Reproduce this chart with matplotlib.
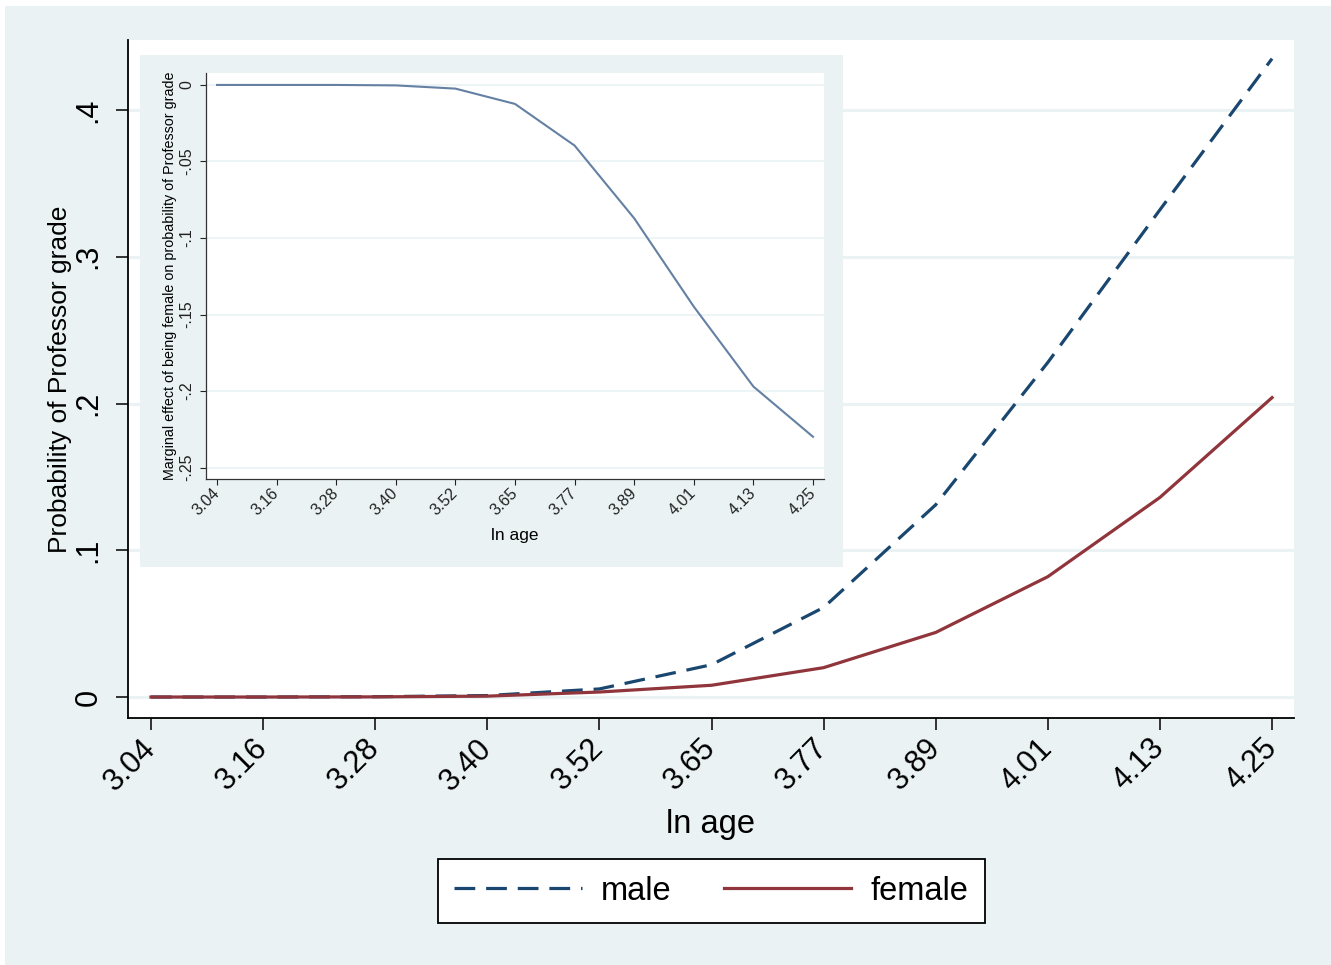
import matplotlib
matplotlib.use("Agg")
import matplotlib.pyplot as plt
from matplotlib.patches import Rectangle

plt.rcParams["font.family"] = ["Liberation Sans", "DejaVu Sans"]

# datos
age_labels = ["3.04", "3.16", "3.28", "3.40", "3.52", "3.65", "3.77", "3.89", "4.01", "4.13", "4.25"]
male = [0.0, 0.0, 0.0002, 0.001, 0.0055, 0.022, 0.061, 0.131, 0.228, 0.332, 0.435]
female = [0.0, 0.0, 0.0001, 0.0006, 0.0034, 0.008, 0.020, 0.044, 0.082, 0.136, 0.204]
marginal = [0.0, 0.0, 0.0, -0.0003, -0.0024, -0.0124, -0.0396, -0.0871, -0.1448, -0.197, -0.2298]

main_yticks = [0, 0.1, 0.2, 0.3, 0.4]
main_ylabels = ["0", ".1", ".2", ".3", ".4"]
inset_yticks = [0, -0.05, -0.1, -0.15, -0.2, -0.25]
inset_ylabels = ["0", "-.05", "-.1", "-.15", "-.2", "-.25"]

BG = "#EAF2F3"
NAVY = "#1A476F"
MAROON = "#90353B"
INSET_LINE = "#6480A2"

W, H = 1331, 965
fig = plt.figure(figsize=(W / 100, H / 100), dpi=100, facecolor="white")
fig.patches.append(Rectangle((5 / W, 0), 1 - 5 / W, 1 - 6 / H, transform=fig.transFigure,
                             facecolor=BG, edgecolor="none", zorder=0))

x = list(range(len(age_labels)))

# grafico principal
ax = fig.add_axes([128 / W, 1 - 718 / H, (1294 - 128) / W, (718 - 40) / H], zorder=1)
ax.set_facecolor("white")
for yv in main_yticks:
    ax.axhline(yv, color=BG, lw=2.2, zorder=0)
ax.plot(x, male, color=NAVY, lw=2.3, linestyle=(0, (6.5, 3.4)), label="male", zorder=3)
ax.plot(x, female, color=MAROON, lw=2.3, label="female", zorder=3)
ax.set_xlim(-0.205, 10.196)
ax.set_ylim(-0.0143, 0.4477)
for s in ["top", "right"]:
    ax.spines[s].set_visible(False)
for s in ["left", "bottom"]:
    ax.spines[s].set_linewidth(1.3)
ax.set_yticks(main_yticks)
ax.set_yticklabels(main_ylabels, rotation=90, va="center")
ax.set_xticks(x)
ax.set_xticklabels(age_labels, rotation=45, ha="right", va="center", rotation_mode="anchor")
ax.tick_params(axis="both", length=8.6, width=1.1, labelsize=22)
ax.tick_params(axis="y", pad=9)
ax.tick_params(axis="x", pad=10)
ax.set_ylabel("Probability of Professor grade", fontsize=19, labelpad=1)
ax.set_xlabel("ln age", fontsize=23.5, labelpad=9)

# caja gris del grafico insertado
box = fig.add_axes([140 / W, 1 - 567 / H, 703 / W, 512 / H], zorder=2)
box.set_facecolor(BG)
box.set_xticks([])
box.set_yticks([])
for s in box.spines.values():
    s.set_visible(False)

# grafico insertado
ins = fig.add_axes([206 / W, 1 - 479 / H, 618 / W, 406 / H], zorder=3)
ins.set_facecolor("white")
for yv in inset_yticks:
    ins.axhline(yv, color=BG, lw=1.2, zorder=0)
ins.plot(x, marginal, color=INSET_LINE, lw=1.5, zorder=3)
ins.set_xlim(-0.185, 10.185)
ins.set_ylim(-0.2574, 0.0078)
for s in ["top", "right"]:
    ins.spines[s].set_visible(False)
for s in ["left", "bottom"]:
    ins.spines[s].set_linewidth(0.9)
    ins.spines[s].set_color("#333333")
ins.set_yticks(inset_yticks)
ins.set_yticklabels(inset_ylabels, rotation=90, va="center")
ins.set_xticks(x)
ins.set_xticklabels(age_labels, rotation=45, ha="right", va="center", rotation_mode="anchor")
ins.tick_params(axis="both", length=4.3, width=0.8, labelsize=11.5, colors="#222222")
ins.tick_params(axis="y", pad=4)
ins.tick_params(axis="x", pad=4)
ins.set_ylabel("Marginal effect of being female on probability of Professor grade", fontsize=10.3, labelpad=2)
ins.set_xlabel("ln age", fontsize=12.5, labelpad=7)

# leyenda
leg = fig.legend(loc="center", bbox_to_anchor=(711.5 / W, 1 - 891 / H), ncol=2, fontsize=23.5,
                 frameon=True, fancybox=False, edgecolor="black", facecolor="white", framealpha=1,
                 handlelength=3.9, handletextpad=0.6, columnspacing=1.6, borderpad=0.5)
leg.get_frame().set_linewidth(1.3)

fig.savefig("out.png", dpi=100, facecolor=fig.get_facecolor())
